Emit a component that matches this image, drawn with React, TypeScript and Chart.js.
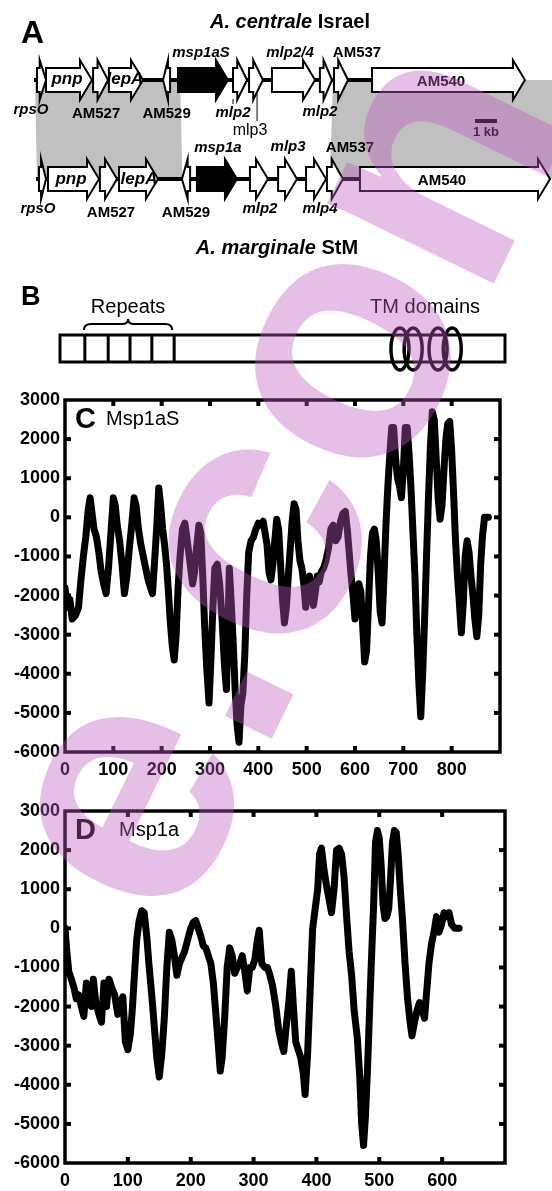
import React, { useEffect, useRef } from 'react';
import { Chart, registerables } from 'chart.js';

Chart.register(...registerables);

const FONT = '"Liberation Sans", Arial, Helvetica, sans-serif';

// ---------------- Panel A : gene maps (kb) ----------------
const israelGenes = ['rpsO', 'pnp', 'AM527', 'lepA', 'AM529', 'msp1aS', 'mlp2', 'mlp3', 'mlp2/4', 'mlp2', 'AM537', 'AM540'];
const israelStart = [0.09, 0.5, 2.64, 3.36, 5.82, 6.5, 9.0, 9.73, 10.77, 12.95, 13.59, 15.32];
const israelEnd = [0.5, 2.59, 3.32, 4.91, 6.14, 8.77, 9.64, 10.36, 12.73, 13.5, 14.23, 22.27];
const israelStrand = [1, 1, 1, 1, -1, 1, 1, 1, 1, 1, 1, 1];

const stmGenes = ['rpsO', 'pnp', 'AM527', 'lepA', 'AM529', 'msp1a', 'mlp2', 'mlp3', 'mlp4', 'AM537', 'AM540'];
const stmStart = [0.18, 0.59, 2.95, 3.82, 6.68, 7.36, 9.77, 11.05, 12.32, 13.27, 14.77];
const stmEnd = [0.5, 2.91, 3.73, 5.59, 7.05, 9.18, 10.59, 11.91, 13.23, 14.0, 23.41];
const stmStrand = [1, 1, 1, 1, -1, 1, 1, 1, 1, 1, 1];

// syntenic blocks in kb
const blockIsraelFrom = [0.0, 13.55];
const blockIsraelTo = [6.6, 23.6];
const blockStmFrom = [0.09, 13.4];
const blockStmTo = [6.7, 23.6];

// ---------------- Panel B : protein schematic (aa) ----------------
const proteinLength = 877;
const repeatBounds = [49, 95, 138, 181, 225];
const tmCenters = [670, 696, 745, 773];

// ---------------- Panel C : Msp1aS hydropathy ----------------
const msp1aSPos = [
  0, 5, 10, 15, 22, 28, 33, 38, 43, 48,
  52, 56, 60, 65, 70, 75, 80, 85, 90, 95,
  100, 104, 108, 113, 118, 123, 128, 133, 138, 143,
  147, 152, 157, 162, 167, 172, 177, 181, 186, 190,
  194, 198, 202, 206, 210, 214, 218, 222, 226, 230,
  234, 238, 243, 248, 252, 256, 260, 264, 268, 272,
  277, 281, 285, 289, 293, 298, 302, 306, 310, 315,
  320, 325, 330, 334, 337, 340, 344, 348, 352, 356,
  360, 364, 368, 372, 376, 380, 385, 390, 395, 400,
  405, 410, 414, 418, 422, 426, 430, 434, 438, 442,
  446, 450, 454, 458, 462, 466, 470, 474, 478, 482,
  486, 490, 494, 498, 502, 506, 510, 514, 518, 522,
  526, 530, 535, 540, 545, 550, 555, 560, 565, 570,
  575, 580, 584, 588, 592, 596, 600, 604, 608, 612,
  616, 620, 624, 628, 632, 636, 640, 644, 648, 652,
  656, 660, 664, 668, 672, 676, 680, 684, 688, 692,
  696, 700, 704, 708, 712, 716, 720, 724, 728, 732,
  736, 740, 744, 748, 752, 756, 760, 764, 768, 772,
  776, 780, 784, 788, 792, 796, 800, 804, 808, 812,
  816, 820, 824, 828, 832, 836, 840, 844, 848, 852,
  856, 860, 864, 868, 872, 876,
];
const msp1aSHydro = [
  -1800, -2300, -2100, -2600, -2500, -2300, -1600, -1000, -500, 200,
  500, 100, -300, -500, -900, -1400, -1700, -1950, -1300, -400,
  500, 300, -200, -600, -1200, -1950, -1500, -800, -200, 500,
  300, -300, -700, -1000, -1300, -1600, -1800, -1950, -1000, -200,
  750, 300, -300, -700, -1200, -1900, -2700, -3300, -3650, -3000,
  -1800, -1000, -300, -150, -500, -900, -1300, -1700, -1400, -800,
  -200, -400, -1500, -2800, -3800, -4750, -3600, -2300, -1300, -1200,
  -1700, -2600, -3800, -4400, -3000, -1300, -2200, -3200, -4400, -5300,
  -5750, -4800, -4500, -3500, -2000, -900, -600, -500, -300, -150,
  -200, -100, -400, -700, -1400, -1600, -1200, -600, -50, -300,
  -1200, -2100, -2700, -2300, -1500, -800, -100, 350, 200, -600,
  -1100, -1300, -1700, -2300, -1800, -1500, -2000, -2250, -1900, -1500,
  -1650, -1400, -1300, -1100, -800, -300, -200, -600, -500, -100,
  100, 150, -300, -900, -1500, -2000, -2600, -2100, -1700, -1900,
  -2800, -3700, -3400, -2200, -1000, -400, -300, -600, -1400, -2400,
  -2700, -1500, -200, 800, 1600, 2300, 2300, 1500, 1000, 800,
  500, 1200, 2300, 2300, 1600, 700, -400, -1500, -3000, -4200,
  -5100, -4000, -2600, -1000, 500, 1800, 2700, 2500, 1500, 500,
  -50, 300, 1200, 2000, 2400, 2450, 1700, 600, -600, -1500,
  -2200, -2950, -2200, -1000, -600, -900, -1500, -2000, -2600, -3050,
  -2500, -1200, -450, 0, 0, 0,
];

// ---------------- Panel D : Msp1a hydropathy ----------------
const msp1aPos = [
  0, 3, 6, 10, 14, 18, 22, 26, 30, 34,
  38, 42, 45, 49, 54, 58, 62, 66, 70, 74,
  79, 84, 88, 92, 96, 100, 104, 107, 110, 114,
  118, 122, 126, 130, 134, 138, 142, 146, 150, 154,
  158, 162, 166, 170, 174, 178, 182, 186, 190, 195,
  200, 204, 208, 212, 216, 220, 224, 228, 232, 236,
  240, 244, 247, 250, 254, 258, 262, 266, 270, 274,
  278, 282, 286, 290, 294, 298, 302, 306, 309, 313,
  318, 322, 326, 330, 335, 340, 344, 348, 352, 356,
  360, 363, 367, 371, 375, 379, 382, 386, 390, 394,
  398, 402, 405, 408, 412, 416, 420, 424, 428, 432,
  436, 440, 444, 448, 452, 456, 460, 465, 469, 472,
  475, 478, 481, 485, 488, 491, 494, 497, 500, 503,
  506, 509, 512, 515, 518, 521, 524, 527, 530, 533,
  537, 541, 545, 549, 552, 556, 560, 564, 568, 572,
  575, 579, 583, 587, 591, 595, 599, 603, 607, 611,
  615, 620, 627,
];
const msp1aHydro = [
  0, -600, -1100, -1300, -1500, -1800, -1700, -2000, -2250, -1400,
  -1700, -2000, -1300, -1900, -2200, -2400, -1400, -2000, -1300, -1500,
  -1700, -2200, -1900, -1750, -2900, -3100, -2700, -2100, -1300, -300,
  200, 450, 400, -200, -1000, -1700, -2500, -3300, -3800, -3200,
  -2300, -1000, -100, -300, -700, -1200, -900, -750, -600, -300,
  0, 150, 200, 0, -200, -450, -500, -700, -900, -1400,
  -2200, -3000, -3650, -3300, -2300, -1000, -500, -700, -1150, -1000,
  -900, -700, -1100, -1600, -1000, -1000, -800, -300, -50, -900,
  -1000, -1000, -1200, -1450, -1950, -2600, -2900, -3150, -2500, -1900,
  -1100, -1900, -2900, -3100, -3300, -3700, -4250, -3200, -1600, 0,
  500, 1000, 1900, 2050, 1500, 1100, 750, 400, 1000, 2000,
  2050, 1900, 1300, 300, -600, -1200, -2100, -2800, -3800, -5000,
  -5550, -4800, -3700, -1900, -600, 600, 2200, 2500, 2300, 1600,
  600, 250, 300, 500, 1300, 2200, 2500, 2450, 1900, 1100,
  200, -900, -1800, -2400, -2750, -2400, -2100, -1900, -2100, -2300,
  -1700, -900, -400, -100, 300, -100, 100, 400, 300, 400,
  100, 0, 0,
];

const yTickValues = [3000, 2000, 1000, 0, -1000, -2000, -3000, -4000, -5000, -6000];

// ---------------- layout / style tables (not data) ----------------
type LabelPlace = { dx: number; by: number; kind: 'it' | 'bold' | 'plain' };
const israelLabelLayout: LabelPlace[] = [
  { dx: -10.5, by: 114, kind: 'it' },
  { dx: -2, by: 84, kind: 'it' },
  { dx: -4.5, by: 118, kind: 'bold' },
  { dx: -1, by: 84, kind: 'it' },
  { dx: 0, by: 118, kind: 'bold' },
  { dx: -2, by: 57, kind: 'it' },
  { dx: -7, by: 117, kind: 'it' },
  { dx: -6, by: 135, kind: 'plain' },
  { dx: -3.5, by: 57, kind: 'it' },
  { dx: -6, by: 116, kind: 'it' },
  { dx: 16, by: 57, kind: 'bold' },
  { dx: -7.5, by: 86, kind: 'bold' },
];
const stmLabelLayout: LabelPlace[] = [
  { dx: -4.5, by: 213, kind: 'it' },
  { dx: -2.5, by: 184, kind: 'it' },
  { dx: 2.5, by: 217, kind: 'bold' },
  { dx: 0.5, by: 184, kind: 'it' },
  { dx: 0, by: 217, kind: 'bold' },
  { dx: 1, by: 152, kind: 'it' },
  { dx: 1, by: 213, kind: 'it' },
  { dx: 0.5, by: 151, kind: 'it' },
  { dx: 4, by: 213, kind: 'it' },
  { dx: 15, by: 152, kind: 'bold' },
  { dx: -13, by: 185, kind: 'bold' },
];

function geneShape(ctx: CanvasRenderingContext2D, x1: number, x2: number, yc: number, strand: number) {
  const bodyH = 12;
  const headH = 20;
  const len = x2 - x1;
  const hl = Math.min(12, len * 0.7);
  ctx.beginPath();
  if (strand > 0) {
    const hb = x2 - hl;
    ctx.moveTo(x1, yc - bodyH);
    ctx.lineTo(hb, yc - bodyH);
    ctx.lineTo(hb, yc - headH);
    ctx.lineTo(x2, yc);
    ctx.lineTo(hb, yc + headH);
    ctx.lineTo(hb, yc + bodyH);
    ctx.lineTo(x1, yc + bodyH);
  } else {
    const hb = x1 + hl;
    ctx.moveTo(x2, yc - bodyH);
    ctx.lineTo(hb, yc - bodyH);
    ctx.lineTo(hb, yc - headH);
    ctx.lineTo(x1, yc);
    ctx.lineTo(hb, yc + headH);
    ctx.lineTo(hb, yc + bodyH);
    ctx.lineTo(x2, yc + bodyH);
  }
  ctx.closePath();
}

function mixedCentered(ctx: CanvasRenderingContext2D, parts: [string, string][], cx: number, y: number) {
  let total = 0;
  parts.forEach(([t, f]) => {
    ctx.font = f;
    total += ctx.measureText(t).width;
  });
  let x = cx - total / 2;
  ctx.textAlign = 'left';
  parts.forEach(([t, f]) => {
    ctx.font = f;
    ctx.fillText(t, x, y);
    x += ctx.measureText(t).width;
  });
}

const genePlugin = {
  id: 'geneMaps',
  afterDraw(chart: any) {
    const ctx: CanvasRenderingContext2D = chart.ctx;
    const xs = chart.scales.x;
    const xp = chart.scales.xp;
    const ys = chart.scales.y;
    const X = (v: number) => xs.getPixelForValue(v);
    const P = (v: number) => xp.getPixelForValue(v);
    const Y = (v: number) => ys.getPixelForValue(v);
    const topY = Y(80);
    const botY = Y(179);
    ctx.save();
    ctx.textBaseline = 'alphabetic';

    ctx.fillStyle = '#000';
    ctx.font = `bold 32px ${FONT}`;
    ctx.textAlign = 'left';
    ctx.fillText('A', 21, 43);
    ctx.font = `bold 27px ${FONT}`;
    ctx.fillText('B', 21, 305);

    mixedCentered(ctx, [['A. centrale', `italic bold 20px ${FONT}`], [' Israel', `bold 20px ${FONT}`]], 290, 28);
    mixedCentered(ctx, [['A. marginale', `italic bold 20px ${FONT}`], [' StM', `bold 20px ${FONT}`]], 277, 254);

    ctx.fillStyle = '#c0c0c0';
    for (let i = 0; i < blockIsraelFrom.length; i++) {
      ctx.beginPath();
      ctx.moveTo(X(blockIsraelFrom[i]), topY);
      ctx.lineTo(X(blockIsraelTo[i]), topY);
      ctx.lineTo(X(blockStmTo[i]), botY);
      ctx.lineTo(X(blockStmFrom[i]), botY);
      ctx.closePath();
      ctx.fill();
    }

    const drawTrack = (genes: string[], st: number[], en: number[], sd: number[], yc: number, layout: LabelPlace[], blackGene: string) => {
      ctx.strokeStyle = '#000';
      ctx.lineWidth = 4;
      ctx.beginPath();
      ctx.moveTo(X(st[0]) - 3, yc);
      ctx.lineTo(X(st[st.length - 1]), yc);
      ctx.stroke();
      for (let i = 0; i < genes.length; i++) {
        const x1 = X(st[i]);
        const x2 = X(en[i]);
        geneShape(ctx, x1, x2, yc, sd[i]);
        ctx.fillStyle = genes[i] === blackGene ? '#000' : '#fff';
        ctx.fill();
        ctx.lineWidth = 2;
        ctx.lineJoin = 'miter';
        ctx.strokeStyle = '#000';
        ctx.stroke();
      }
      for (let i = 0; i < genes.length; i++) {
        const L = layout[i];
        const cx = (X(st[i]) + X(en[i])) / 2 + L.dx;
        const size = genes[i] === 'pnp' || genes[i] === 'lepA' ? 17 : 15;
        ctx.font = L.kind === 'it' ? `italic bold ${size}px ${FONT}` : L.kind === 'bold' ? `bold ${size}px ${FONT}` : `16px ${FONT}`;
        ctx.fillStyle = '#000';
        ctx.textAlign = 'center';
        ctx.fillText(genes[i], cx, L.by);
      }
    };
    drawTrack(israelGenes, israelStart, israelEnd, israelStrand, topY, israelLabelLayout, 'msp1aS');
    drawTrack(stmGenes, stmStart, stmEnd, stmStrand, botY, stmLabelLayout, 'msp1a');

    ctx.strokeStyle = '#000';
    ctx.lineWidth = 1;
    ctx.beginPath();
    const m2 = X(israelStart[6]);
    ctx.moveTo(m2, topY + 19);
    ctx.lineTo(m2, topY + 24);
    const m3 = X(israelStart[7]) + 8;
    ctx.moveTo(m3, topY + 14);
    ctx.lineTo(m3, topY + 41);
    ctx.stroke();

    ctx.lineWidth = 4;
    ctx.beginPath();
    ctx.moveTo(X(20.0), 121);
    ctx.lineTo(X(21.0), 121);
    ctx.stroke();
    ctx.font = `bold 13px ${FONT}`;
    ctx.textAlign = 'center';
    ctx.fillStyle = '#000';
    ctx.fillText('1 kb', X(20.5), 136);

    // ---------- Panel B ----------
    const rTop = 335;
    const rBot = 362;
    ctx.lineWidth = 3;
    ctx.strokeStyle = '#000';
    ctx.strokeRect(P(0), rTop, P(proteinLength) - P(0), rBot - rTop);
    ctx.beginPath();
    repeatBounds.forEach((b) => {
      ctx.moveTo(P(b), rTop);
      ctx.lineTo(P(b), rBot);
    });
    ctx.stroke();
    const b0 = P(0) + 24;
    const b1 = P(repeatBounds[repeatBounds.length - 1]) - 2;
    const bm = (b0 + b1) / 2;
    ctx.lineWidth = 2;
    ctx.beginPath();
    ctx.moveTo(b0, 330);
    ctx.quadraticCurveTo(b0, 324, b0 + 7, 324);
    ctx.lineTo(bm - 6, 324);
    ctx.quadraticCurveTo(bm, 324, bm, 319);
    ctx.quadraticCurveTo(bm, 324, bm + 6, 324);
    ctx.lineTo(b1 - 7, 324);
    ctx.quadraticCurveTo(b1, 324, b1, 330);
    ctx.stroke();
    ctx.lineWidth = 3.5;
    tmCenters.forEach((c) => {
      ctx.beginPath();
      ctx.ellipse(P(c), 349, 9, 21, 0, 0, Math.PI * 2);
      ctx.stroke();
    });
    ctx.font = `20px ${FONT}`;
    ctx.textAlign = 'center';
    ctx.fillStyle = '#000';
    ctx.fillText('Repeats', bm, 313);
    ctx.fillText('TM domains', P((tmCenters[0] + tmCenters[3]) / 2) - 1, 313);
    ctx.restore();
  },
};

function makeFramePlugin(letter: string, name: string, nameX: number) {
  return {
    id: 'frame' + letter,
    afterDatasetsDraw(chart: any) {
      const ctx: CanvasRenderingContext2D = chart.ctx;
      const { left, right, top, bottom } = chart.chartArea;
      const xs = chart.scales.x;
      const ys = chart.scales.y;
      ctx.save();
      ctx.fillStyle = '#000';
      xs.ticks.forEach((t: any) => {
        const x = xs.getPixelForValue(t.value);
        if (x <= left + 1 || x >= right - 1) return;
        ctx.fillRect(x - 2, bottom - 6, 4, 6);
        ctx.fillRect(x - 2, top, 4, 6);
      });
      ys.ticks.forEach((t: any) => {
        const y = ys.getPixelForValue(t.value);
        if (y <= top + 1 || y >= bottom - 1) return;
        ctx.fillRect(left, y - 2, 6, 4);
        ctx.fillRect(right - 6, y - 2, 6, 4);
      });
      ctx.lineWidth = 3.5;
      ctx.strokeStyle = '#000';
      ctx.strokeRect(left, top, right - left, bottom - top);
      ctx.textAlign = 'left';
      ctx.textBaseline = 'alphabetic';
      ctx.font = `bold 29px ${FONT}`;
      ctx.fillText(letter, left + 10, top + 28);
      ctx.font = `20px ${FONT}`;
      ctx.fillText(name, nameX, top + 25);
      ctx.restore();
    },
  };
}

function plotConfig(pos: number[], vals: number[], xMax: number, padTop: number, padRight: number, xAxisH: number, plugin: any) {
  const tickFont = { family: FONT, size: 18, weight: 'bold' as const };
  return {
    type: 'line' as const,
    data: {
      datasets: [
        {
          data: pos.map((x, i) => ({ x, y: vals[i] })),
          borderColor: '#000',
          borderWidth: 7,
          pointRadius: 0,
          tension: 0,
          fill: false,
          borderJoinStyle: 'round' as const,
          borderCapStyle: 'round' as const,
        },
      ],
    },
    options: {
      animation: false as const,
      responsive: false,
      maintainAspectRatio: false,
      events: [],
      layout: { padding: { top: padTop, right: padRight, left: 0, bottom: 0 } },
      plugins: { legend: { display: false }, tooltip: { enabled: false } },
      scales: {
        x: {
          type: 'linear' as const,
          min: 0,
          max: xMax,
          afterFit: (s: any) => {
            s.height = xAxisH;
          },
          grid: { display: false, drawTicks: false },
          border: { display: false },
          ticks: {
            stepSize: 100,
            padding: 7,
            color: '#000',
            font: tickFont,
            maxRotation: 0,
            autoSkip: false,
            callback: (v: any) => (v >= xMax ? '' : String(v)),
          },
        },
        y: {
          type: 'linear' as const,
          min: -6000,
          max: 3000,
          afterFit: (s: any) => {
            s.width = 65;
          },
          afterBuildTicks: (s: any) => {
            s.ticks = yTickValues.map((v) => ({ value: v }));
          },
          grid: { display: false, drawTicks: false },
          border: { display: false },
          ticks: {
            padding: 5,
            color: '#000',
            font: tickFont,
            autoSkip: false,
            callback: (v: any) => String(v),
          },
        },
      },
    },
    plugins: [plugin],
  };
}

const watermarkPlugin = {
  id: 'watermark',
  afterDraw(chart: any) {
    const ctx: CanvasRenderingContext2D = chart.ctx;
    ctx.save();
    ctx.fillStyle = 'rgba(191,89,191,0.39)';
    ctx.translate(176, 935);
    ctx.rotate((-64 * Math.PI) / 180);
    ctx.font = `bold 350px ${FONT}`;
    ctx.textAlign = 'left';
    ctx.textBaseline = 'alphabetic';
    ctx.fillText('e.con', 0, 0);
    ctx.restore();
  },
};

export default function App() {
  const aRef = useRef<HTMLCanvasElement>(null);
  const cRef = useRef<HTMLCanvasElement>(null);
  const dRef = useRef<HTMLCanvasElement>(null);
  const wRef = useRef<HTMLCanvasElement>(null);

  useEffect(() => {
    const charts: Chart[] = [];
    charts.push(
      new Chart(aRef.current as HTMLCanvasElement, {
        type: 'scatter',
        data: { datasets: [] },
        options: {
          animation: false,
          responsive: false,
          maintainAspectRatio: false,
          events: [],
          layout: { padding: 0 },
          plugins: { legend: { display: false }, tooltip: { enabled: false } },
          scales: {
            x: { type: 'linear', display: false, min: -35 / 22, max: 517 / 22 },
            xp: { type: 'linear', axis: 'x', display: false, min: (-60 * proteinLength) / 445, max: (492 * proteinLength) / 445 },
            y: { type: 'linear', display: false, min: 0, max: 380, reverse: true },
          },
        } as any,
        plugins: [genePlugin],
      })
    );
    charts.push(
      new Chart(
        cRef.current as HTMLCanvasElement,
        plotConfig(msp1aSPos, msp1aSHydro, 900, 20, 52, 38, makeFramePlugin('C', 'Msp1aS', 106)) as any
      )
    );
    charts.push(
      new Chart(
        dRef.current as HTMLCanvasElement,
        plotConfig(msp1aPos, msp1aHydro, 700, 21, 47, 28, makeFramePlugin('D', 'Msp1a', 119)) as any
      )
    );
    charts.push(
      new Chart(wRef.current as HTMLCanvasElement, {
        type: 'scatter',
        data: { datasets: [] },
        options: {
          animation: false,
          responsive: false,
          maintainAspectRatio: false,
          events: [],
          plugins: { legend: { display: false }, tooltip: { enabled: false } },
          scales: { x: { display: false }, y: { display: false } },
        },
        plugins: [watermarkPlugin],
      })
    );
    return () => charts.forEach((c) => c.destroy());
  }, []);

  const abs = (top: number, h: number): React.CSSProperties => ({
    position: 'absolute',
    left: 0,
    top,
    width: 552,
    height: h,
    display: 'block',
  });

  return (
    <div style={{ position: 'absolute', left: 0, top: 0, width: 552, height: 1191, background: '#fff', overflow: 'hidden' }}>
      <canvas ref={aRef} width={552} height={380} style={abs(0, 380)} />
      <canvas ref={cRef} width={552} height={410} style={abs(380, 410)} />
      <canvas ref={dRef} width={552} height={401} style={abs(790, 401)} />
      <canvas ref={wRef} width={552} height={1191} style={{ ...abs(0, 1191), pointerEvents: 'none' }} />
    </div>
  );
}
